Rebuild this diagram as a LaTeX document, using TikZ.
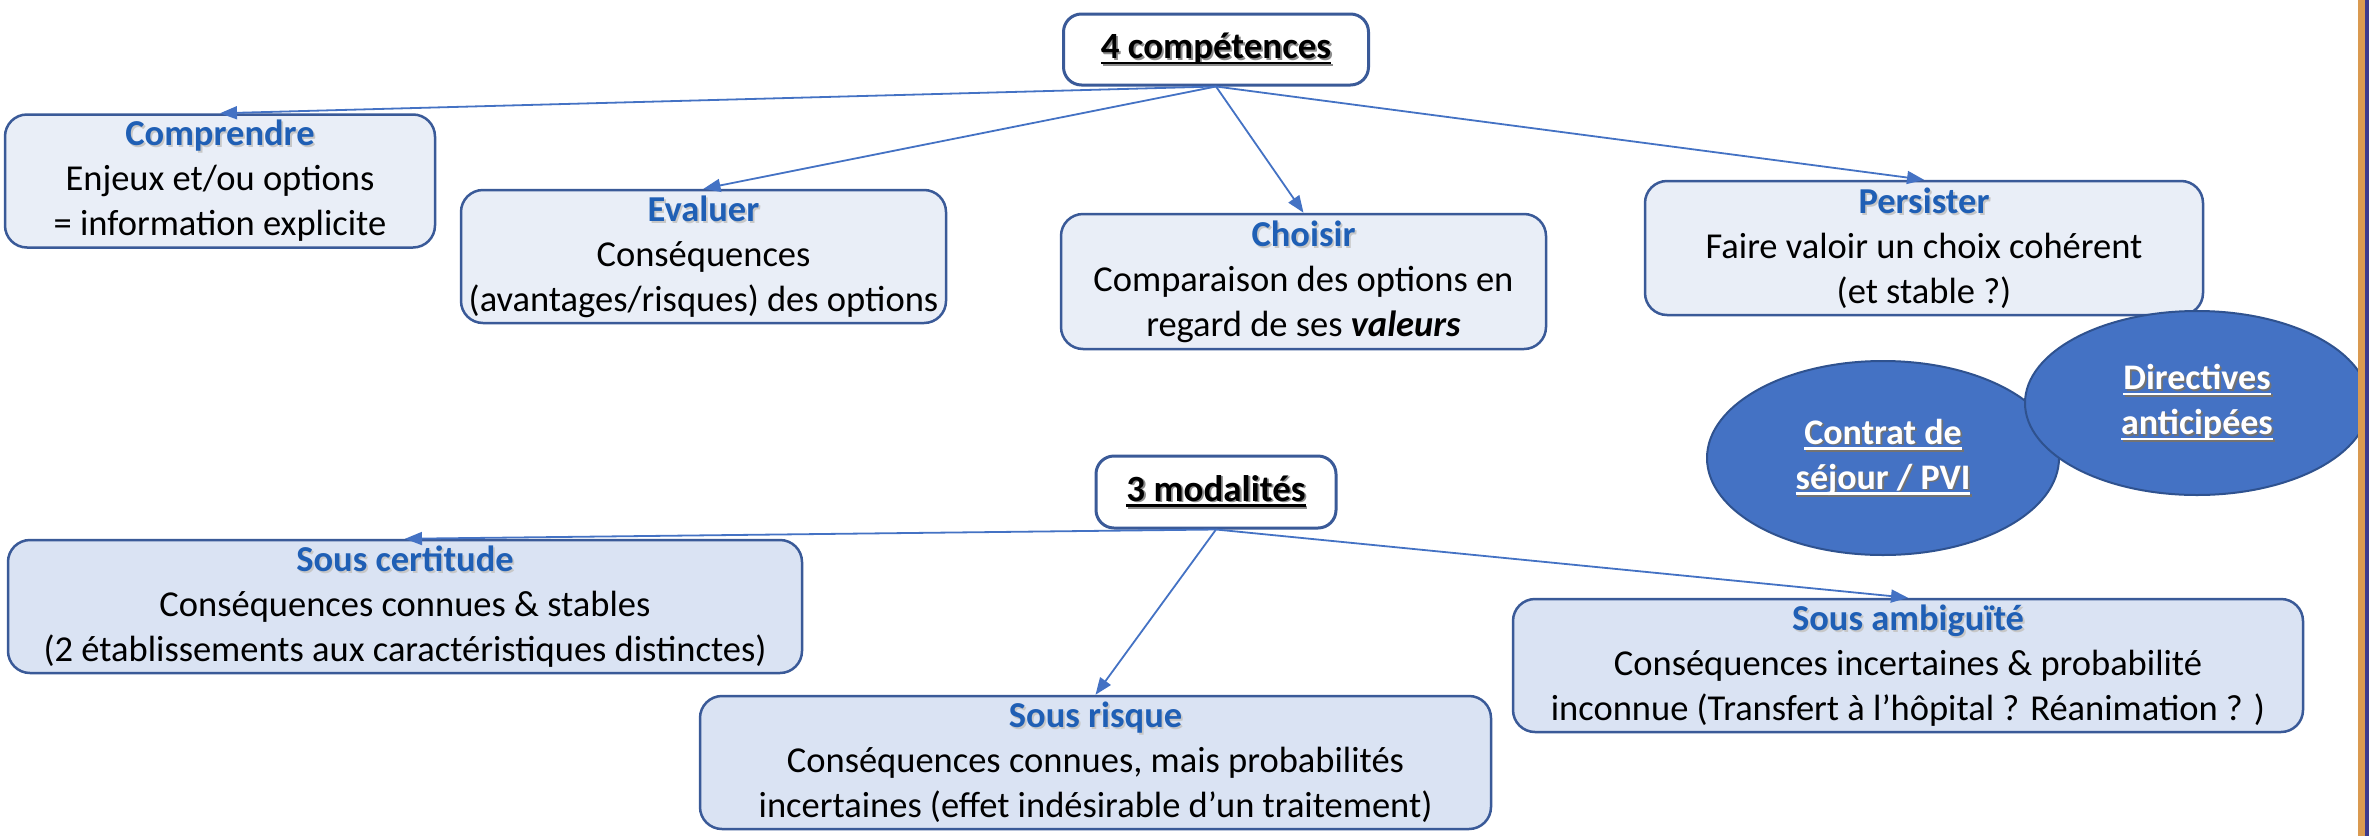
\documentclass[tikz,border=0pt]{standalone}
\usepackage{fontspec}
\setmainfont{Carlito}
\usetikzlibrary{arrows.meta,shapes.geometric}

\definecolor{boxline}{HTML}{3A5A98}
\definecolor{topfill}{HTML}{E9EEF7}
\definecolor{lowfill}{HTML}{DAE3F3}
\definecolor{titleblue}{HTML}{1F5FB5}
\definecolor{linkblue}{HTML}{4472C4}
\definecolor{ovalfill}{HTML}{4472C4}
\definecolor{ovalline}{HTML}{2F528F}
\definecolor{edgeorange}{HTML}{DA9A50}
\definecolor{edgenavy}{HTML}{3C3A8E}

% underline set just below the baseline
\newcommand\ulx[1]{\setbox0=\hbox{#1}\rlap{\rule[-0.16em]{\wd0}{0.07em}}\box0}
% text with a soft drop shadow: #1 shadow colour, #2 text colour, #3 text
\newcommand\shd[3]{\leavevmode\rlap{\kern0.05em\raisebox{-0.05em}{\color{#1}#3}}{\color{#2}#3}}
\newcommand\ttl[1]{\shd{black!22}{titleblue}{\textbf{#1}}}

\tikzset{
  basebox/.style={draw=boxline, line width=2.5pt, rounded corners=22pt,
    align=center, inner sep=0pt, font=\fontsize{36.5}{45}\selectfont},
  topbox/.style={basebox, fill=topfill},
  lowbox/.style={basebox, fill=lowfill},
  headbox/.style={draw=boxline, line width=3pt, rounded corners=18pt, fill=white,
    align=center, inner sep=0pt, font=\fontsize{37}{45}\selectfont},
  oval/.style={ellipse, draw=ovalline, line width=2pt, fill=ovalfill,
    align=center, inner sep=0pt, text=white, font=\fontsize{36}{45}\selectfont},
  link/.style={draw=linkblue, line width=1.8pt,
    -{Triangle[length=17pt,width=13pt]}},
}

\begin{document}
\begin{tikzpicture}[x=1pt, y=-1pt]
\useasboundingbox (0,0) rectangle (2369,836);
\fill[white] (0,0) rectangle (2369,836);

% competences
\node[headbox, minimum width=305, minimum height=71] (h4) at (1216,49.5)
  {\shd{black!45}{black}{\ulx{\textbf{4 compétences}}}};
\node[topbox, minimum width=430, minimum height=133] (comp) at (220,181)
  {\ttl{Comprendre}\\Enjeux et/ou options\\= information explicite};
\node[topbox, minimum width=485, minimum height=133] (eval) at (703.5,256.5)
  {\ttl{Evaluer}\\Conséquences\\(avantages/risques) des options};
\node[topbox, minimum width=485, minimum height=135] (chois) at (1303.5,281.5)
  {\ttl{Choisir}\\Comparaison des options en\\regard de ses \textbf{\textit{valeurs}}};
\node[topbox, minimum width=558, minimum height=134] (pers) at (1924,248)
  {\ttl{Persister}\\Faire valoir un choix cohérent\\(et stable ?)};

% supports for persisting
\node[oval, minimum width=352, minimum height=194] (pvi) at (1883,458)
  {\shd{black!55}{white}{\ulx{\textbf{Contrat de}}}\\
   \shd{black!55}{white}{\ulx{\textbf{séjour / PVI}}}};
\node[oval, minimum width=344, minimum height=184] (da) at (2197,403)
  {\shd{black!55}{white}{\ulx{\textbf{Directives}}}\\
   \shd{black!55}{white}{\ulx{\textbf{anticipées}}}};

% modalities
\node[headbox, minimum width=240, minimum height=72] (h3) at (1216,492)
  {\shd{black!45}{black}{\ulx{\textbf{3 modalités}}}};
\node[lowbox, minimum width=794, minimum height=133] (cert) at (405,606.5)
  {\ttl{Sous certitude}\\Conséquences connues \& stables\\(2 établissements aux caractéristiques distinctes)};
\node[lowbox, minimum width=791, minimum height=133] (risk) at (1095.5,762.5)
  {\ttl{Sous risque}\\Conséquences connues, mais probabilités\\incertaines (effet indésirable d’un traitement)};
\node[lowbox, minimum width=790, minimum height=133] (amb) at (1908,665.5)
  {\ttl{Sous ambiguïté}\\Conséquences incertaines \& probabilité\\inconnue (Transfert à l’hôpital ? Réanimation ? )};

% connectors
\draw[link] (h4.south) -- (comp.north);
\draw[link] (h4.south) -- (eval.north);
\draw[link] (h4.south) -- (chois.north);
\draw[link] (h4.south) -- (pers.north);
\draw[link] (h3.south) -- (cert.north);
\draw[link] (h3.south) -- (risk.north);
\draw[link] (h3.south) -- (amb.north);

% frame edge on the right
\fill[edgeorange] (2358,0) rectangle (2365,836);
\fill[edgenavy] (2365,0) rectangle (2369,836);
\end{tikzpicture}
\end{document}
